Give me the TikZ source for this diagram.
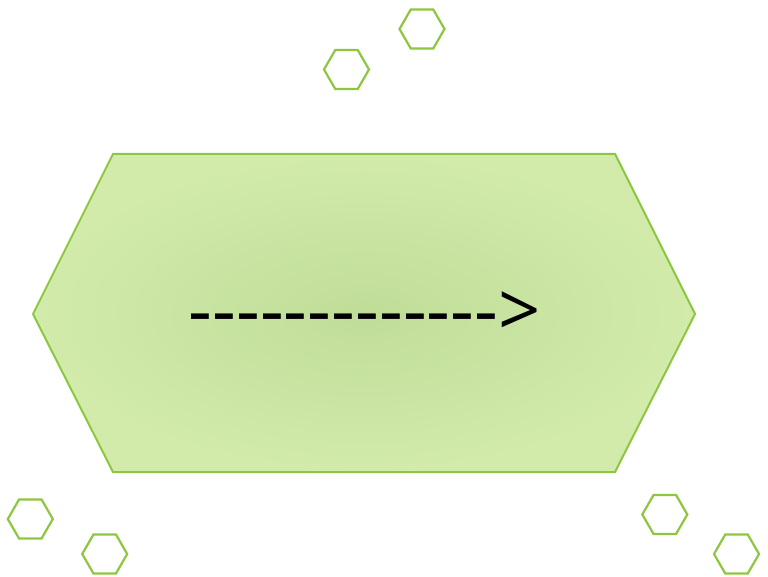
\documentclass[tikz,border=0pt]{standalone}
\usepackage{fontspec}
\setmainfont{Open Sans}
\newcommand{\hyph}{\hbox{-}}
\begin{document}
\begin{tikzpicture}[x=1pt,y=-1pt]
\definecolor{hexline}{HTML}{8DC63F}
\definecolor{hexin}{HTML}{C0DD98}
\definecolor{hexout}{HTML}{D2EBAB}
\tikzset{
  bighex/.style={draw=hexline, line width=2pt, line join=miter, inner color=hexin, outer color=hexout},
  smallhex/.style={draw=hexline, line width=2.2pt, line join=miter},
  arrowtext/.style={font=\fontsize{74}{80}\selectfont, text=black, inner sep=0pt}
}
\useasboundingbox (0,0) rectangle (768,577);
\path[bighex] (33,314) -- (113,154) -- (615,154) -- (695,314) -- (615,472) -- (113,472) -- cycle;
\node[arrowtext] (arrowlabel) at (364.5,314) {\hyph\hyph\hyph\hyph\hyph\hyph\hyph\hyph\hyph\hyph\hyph\hyph\hyph\hbox{>}};
\foreach \cx/\cy in {422/29, 346.5/69.5, 30.3/519, 104.7/554, 664.8/514.5, 736.5/554}{
  \draw[smallhex] (\cx,\cy) +(0:22.5) -- +(60:22.5) -- +(120:22.5) -- +(180:22.5) -- +(240:22.5) -- +(300:22.5) -- cycle;
}
\end{tikzpicture}
\end{document}
